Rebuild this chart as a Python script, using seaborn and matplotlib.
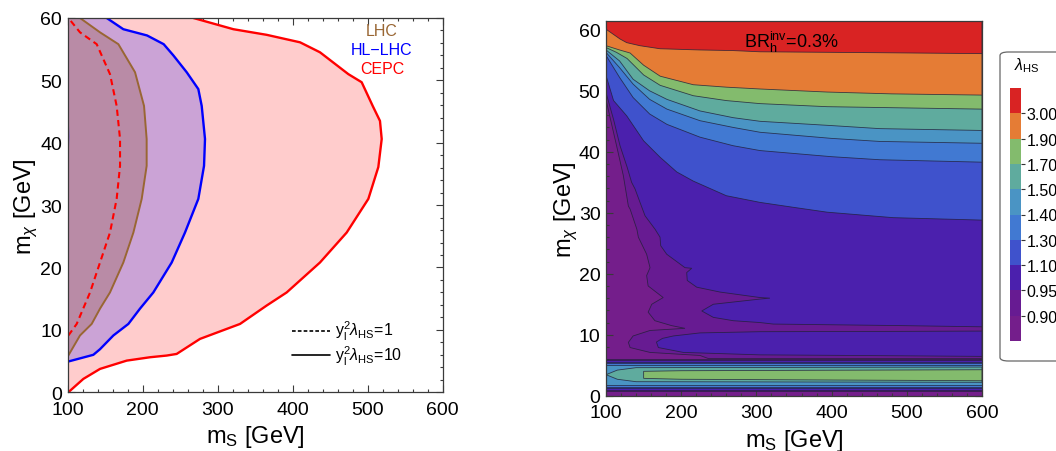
import numpy as np
import matplotlib
matplotlib.use("Agg")
import matplotlib.pyplot as plt
import seaborn as sns
from matplotlib.colors import ListedColormap, BoundaryNorm
from matplotlib.cm import ScalarMappable
from matplotlib.patches import FancyBboxPatch
from matplotlib.ticker import MultipleLocator

# ---------------- Left panel: exclusion regions (m_S, m_chi) ----------------
cepc10_x = [100.9, 120.9, 143.1, 178.7, 209.8, 232.0, 245.3, 276.4, 329.8, 365.3, 392.0,
            436.4, 472.0, 500.9, 514.2, 518.7, 516.4, 506.7, 492.0, 474.2, 436.4, 409.8,
            365.3, 320.9, 267.6]
cepc10_y = [0.0, 2.14, 3.74, 5.07, 5.61, 5.88, 6.14, 8.55, 10.95, 13.9, 16.0,
            20.8, 25.6, 31.0, 36.1, 40.6, 43.5, 45.9, 49.7, 51.0, 54.5, 56.1,
            57.3, 58.2, 60.0]

hl10_x = [100.0, 134.2, 143.1, 160.9, 180.9, 196.4, 214.2, 238.7, 256.4, 274.2, 281.8,
          283.1, 278.7, 274.2, 258.7, 240.9, 228.0, 205.8, 174.2, 152.0]
hl10_y = [4.9, 6.0, 6.9, 9.1, 10.95, 13.4, 16.0, 20.8, 25.6, 31.0, 36.3,
          40.6, 45.9, 48.6, 51.3, 54.0, 55.8, 57.2, 58.2, 60.0]

lhc10_x = [100.9, 116.4, 132.0, 143.1, 156.4, 174.2, 187.6, 198.7, 205.3, 205.3, 201.8,
           189.8, 167.6, 143.1, 116.4]
lhc10_y = [5.9, 9.1, 10.95, 13.4, 16.0, 20.8, 25.6, 31.0, 36.3, 40.6, 45.9,
           51.3, 55.8, 57.7, 60.0]

cepc1_x = [100.9, 112.0, 129.8, 143.1, 156.4, 165.3, 169.8, 169.8, 165.3, 156.4, 138.7,
           116.4, 100.9]
cepc1_y = [9.1, 10.95, 16.0, 20.8, 25.6, 31.0, 36.3, 40.6, 45.9, 51.0, 55.8,
           57.7, 60.0]

hl1_x = [100.0, 100.6, 100.0]
hl1_y = [36.9, 41.0, 45.4]

collider_names = ["LHC", "HL\u2212LHC", "CEPC"]
collider_colors = ["#996633", "#0000ff", "#ff0000"]
coupling_labels = [r"y$_\mathregular{l}^\mathregular{2}\lambda_\mathregular{HS}$=1",
                   r"y$_\mathregular{l}^\mathregular{2}\lambda_\mathregular{HS}$=10"]

# ---------------- Right panel: lambda_HS contours for BR_inv = 0.3% ----------------
level_labels = ["0.90", "0.95", "1.10", "1.30", "1.40", "1.50", "1.70", "1.90", "3.00"]
band_colors = ["#741e8b", "#671b92", "#4b20ad", "#3f52cc", "#4179d2",
               "#4a94c4", "#5fab9e", "#83bb6d", "#e57c35", "#d92323"]

# contour lines spanning the plot (region above each line exceeds the level)
c300_x = [100, 118.6, 127.5, 145, 171.8, 225, 269, 305, 464, 600]
c300_y = [60.1, 58.5, 57.9, 57.4, 56.9, 56.7, 56.6, 56.4, 56.25, 56.1]
c190_x = [100, 118, 132, 150, 172, 216, 260, 305, 394, 480, 600]
c190_y = [57.4, 56.7, 56.2, 54.2, 52.4, 51.0, 50.6, 50.3, 49.8, 49.5, 49.3]
c170_x = [100, 114, 128, 150, 172, 216, 260, 305, 394, 600]
c170_y = [57.1, 56.3, 55.3, 52.6, 50.9, 49.2, 48.4, 47.9, 47.4, 47.0]
c150_x = [100, 118, 136, 158, 181, 225, 269, 305, 400, 464, 600]
c150_y = [56.7, 54.9, 51.9, 50.0, 48.6, 46.7, 45.6, 45.0, 44.3, 43.8, 43.5]
c140_x = [100, 118, 136, 158, 181, 225, 269, 305, 400, 464, 600]
c140_y = [56.3, 53.8, 51.1, 48.6, 47.0, 45.1, 44.0, 43.2, 42.2, 41.7, 41.4]
c130_x = [100, 118, 136, 158, 181, 225, 269, 305, 400, 464, 600]
c130_y = [55.8, 52.2, 48.9, 46.2, 44.5, 42.4, 41.0, 40.2, 39.2, 38.7, 38.3]
c110_x = [100, 110, 127.5, 150, 172, 194, 216, 260, 305, 349, 394, 482, 600]
c110_y = [52.5, 48.4, 45.9, 41.8, 39.1, 36.7, 35.2, 32.8, 31.7, 30.9, 30.1, 29.2, 28.8]
c095_x = [100, 110, 118.6, 128, 134, 138.6, 145.2, 151.9, 165.2, 171.8, 172.7, 180.7,
          205, 214, 207.3, 208, 220.6, 251.6, 304.8, 318, 304.8, 242.7, 227.3, 242.7,
          269.3, 304.8, 322.5, 491, 600]
c095_y = [49.7, 45.3, 41.0, 37.5, 35.0, 33.9, 31.7, 29.5, 27.3, 26.0, 24.6, 23.2,
          21.0, 20.9, 20.2, 18.9, 17.8, 17.0, 16.1, 16.0, 15.85, 15.0, 13.9, 12.85,
          12.3, 12.0, 11.75, 11.5, 11.3]
c090_x = [100, 114, 123, 129.7, 132, 141, 143, 154, 158.5, 154, 156, 176, 160.8, 156,
          165, 187, 205, 158.5, 136, 129.7, 132, 158.5, 225, 236, 600]
c090_y = [48.5, 41.0, 36.1, 31.1, 30.6, 27.3, 26.0, 23.2, 21.0, 19.7, 18.0, 16.1, 15.0,
          13.7, 12.3, 11.5, 11.05, 10.7, 9.8, 8.75, 7.9, 7.1, 6.6, 6.1, 6.1]

# lower isolated 0.95 tongue
tongue_up_x = [167, 175, 189.5, 225, 305, 491, 600]
tongue_up_y = [8.8, 9.4, 9.8, 10.3, 10.5, 10.55, 10.6]
tongue_lo_x = [169.6, 202.8, 305, 491, 600]
tongue_lo_y = [7.9, 7.1, 6.7, 6.55, 6.45]

# low-mass strip (m_chi ~ 1-6 GeV)
strip_x = [100, 600]
strip_upper = [5.95, 5.8, 5.6, 5.36, 5.03]     # levels 0.90 .. 1.40
strip_lower = [0.82, 0.98, 1.21, 1.48, 1.8]
teal_x = [100, 115, 140, 600]
teal_upper = [3.45, 4.2, 4.6, 4.7]
teal_lower = [3.45, 2.7, 2.3, 2.2]
green_x = [150, 200, 600]
green_upper = [4.0, 4.1, 4.26]
green_lower = [2.85, 2.7, 2.46]

# ---------------- style ----------------
sns.set_theme(style="white")
plt.rcParams["font.family"] = ["Liberation Sans", "DejaVu Sans"]
plt.rcParams.update({
    "mathtext.fontset": "custom",
    "mathtext.rm": "Liberation Sans",
    "mathtext.it": "Liberation Sans:italic",
    "mathtext.bf": "Liberation Sans:bold",
    "mathtext.sf": "Liberation Sans",
    "text.color": "black",
    "axes.labelcolor": "black",
    "xtick.color": "#333333",
    "ytick.color": "#333333",
    "xtick.labelcolor": "black",
    "ytick.labelcolor": "black",
})

XMIN, XMAX = 100, 600
FRAME = "#3a3a3a"


def style_frame(ax, ymax, ylabelpad):
    ax.set_xlim(XMIN, XMAX)
    ax.set_ylim(0, ymax)
    ax.xaxis.set_major_locator(MultipleLocator(100))
    ax.xaxis.set_minor_locator(MultipleLocator(20))
    ax.yaxis.set_major_locator(MultipleLocator(10))
    ax.yaxis.set_minor_locator(MultipleLocator(2))
    ax.tick_params(which="both", direction="in", top=True, right=True,
                   bottom=True, left=True, width=0.8, color=FRAME)
    ax.tick_params(which="major", length=5, labelsize=14)
    ax.tick_params(axis="x", which="major", pad=6)
    ax.tick_params(axis="y", which="major", pad=4)
    ax.tick_params(which="minor", length=2.5)
    for s in ax.spines.values():
        s.set_color(FRAME)
        s.set_linewidth(0.9)
        s.set_zorder(5)
    ax.set_xlabel(r"m$_\mathregular{S}$ [GeV]", fontsize=17, labelpad=4)
    ax.set_ylabel(r"m$_\chi$ [GeV]", fontsize=17, labelpad=ylabelpad)


fig = plt.figure(figsize=(10.56, 4.52), dpi=100)
axL = fig.add_axes([0.0641, 0.1300, 0.3551, 0.8280])
axR = fig.add_axes([0.5739, 0.1223, 0.3560, 0.8297])

# ---------------- left panel ----------------
axL.set_facecolor("white")
axL.fill(np.r_[XMIN, cepc10_x, XMIN], np.r_[0, cepc10_y, 60], color="#ffcccc", lw=0, zorder=1)
axL.fill(np.r_[XMIN, hl10_x, XMIN], np.r_[hl10_y[0], hl10_y, 60], color="#cba3d6", lw=0, zorder=1.1)
axL.fill(np.r_[XMIN, lhc10_x, XMIN], np.r_[lhc10_y[0], lhc10_y, 60], color="#b98ba6", lw=0, zorder=1.2)

sns.lineplot(x=cepc10_x, y=cepc10_y, sort=False, estimator=None, color="#ff0000",
             linewidth=1.7, ax=axL, zorder=3)
sns.lineplot(x=hl10_x, y=hl10_y, sort=False, estimator=None, color="#0000ff",
             linewidth=1.7, ax=axL, zorder=3)
sns.lineplot(x=lhc10_x, y=lhc10_y, sort=False, estimator=None, color="#996633",
             linewidth=1.4, ax=axL, zorder=3)
sns.lineplot(x=cepc1_x, y=cepc1_y, sort=False, estimator=None, color="#ff0000",
             linewidth=1.5, linestyle=(0, (3, 2)), ax=axL, zorder=3)
sns.lineplot(x=hl1_x, y=hl1_y, sort=False, estimator=None, color="#0000ff",
             linewidth=1.5, ax=axL, zorder=3)

style_frame(axL, 60, 0.5)

for name, col, yf in zip(collider_names, collider_colors, [0.966, 0.915, 0.864]):
    axL.text(0.838, yf, name, color=col, fontsize=11.5, ha="center", va="center",
             transform=axL.transAxes)

for lab, ls, yf in zip(coupling_labels, [(0, (2.2, 1.3)), "-"], [0.1646, 0.0997]):
    axL.plot([0.598, 0.700], [yf, yf], color="black", lw=1.2, linestyle=ls,
             transform=axL.transAxes, zorder=4)
    axL.text(0.713, yf, lab, fontsize=11.5, ha="left", va="center",
             transform=axL.transAxes)

# ---------------- right panel ----------------
YTOP = 61.5
axR.set_facecolor(band_colors[0])
EDGE = (0.13, 0.12, 0.22, 0.8)


def region(xs, ys, k):
    axR.fill(xs, ys, facecolor=band_colors[k], edgecolor=EDGE, lw=0.6, zorder=1 + 0.05 * k)


def upper_region(cx, cy, k):
    region(np.r_[cx, XMAX, XMIN], np.r_[cy, YTOP, YTOP], k)


def strip_region(k):
    region([strip_x[0], strip_x[1], strip_x[1], strip_x[0]],
           [strip_upper[k - 1], strip_upper[k - 1], strip_lower[k - 1], strip_lower[k - 1]], k)


# level 0.90
upper_region(c090_x, c090_y, 1)
strip_region(1)
# level 0.95
upper_region(c095_x, c095_y, 2)
region(np.r_[tongue_up_x, tongue_lo_x[::-1]], np.r_[tongue_up_y, tongue_lo_y[::-1]], 2)
strip_region(2)
# level 1.10
upper_region(c110_x, c110_y, 3)
strip_region(3)
# level 1.30
upper_region(c130_x, c130_y, 4)
strip_region(4)
# level 1.40
upper_region(c140_x, c140_y, 5)
strip_region(5)
# level 1.50
upper_region(c150_x, c150_y, 6)
region(np.r_[teal_x, teal_x[::-1]], np.r_[teal_upper, teal_lower[::-1]], 6)
# level 1.70
upper_region(c170_x, c170_y, 7)
region(np.r_[green_x, green_x[::-1]], np.r_[green_upper, green_lower[::-1]], 7)
# level 1.90
upper_region(c190_x, c190_y, 8)
# level 3.00
upper_region(c300_x, c300_y, 9)

style_frame(axR, YTOP, -1)
axR.text(347, 58.1, r"BR$_\mathregular{h}^\mathregular{inv}$=0.3%", fontsize=13,
         ha="center", va="center", zorder=6)

# ---------------- colour legend ----------------
box = FancyBboxPatch((1000 / 1056, 1 - 362 / 452), 0.2, (362 - 53) / 452,
                     boxstyle="round,pad=0,rounding_size=0.008",
                     transform=fig.transFigure, facecolor="white",
                     edgecolor="#666666", lw=0.9, zorder=0)
fig.add_artist(box)
fig.text(1027 / 1056, 1 - 66 / 452, r"$\lambda_\mathregular{HS}$", fontsize=11.5,
         ha="center", va="center")

cax = fig.add_axes([1010 / 1056, 1 - 342 / 452, 11 / 1056, (342 - 89) / 452])
nb = len(band_colors)
sm = ScalarMappable(norm=BoundaryNorm(np.arange(nb + 1), nb), cmap=ListedColormap(band_colors))
cb = fig.colorbar(sm, cax=cax, ticks=np.arange(1, nb))
cb.set_ticklabels(level_labels)
cb.minorticks_off()
cb.outline.set_visible(False)
cax.tick_params(which="both", direction="out", length=3, width=0.8, color="#333333",
                labelsize=11.5, pad=1)

fig.savefig("out.png", dpi=100)
